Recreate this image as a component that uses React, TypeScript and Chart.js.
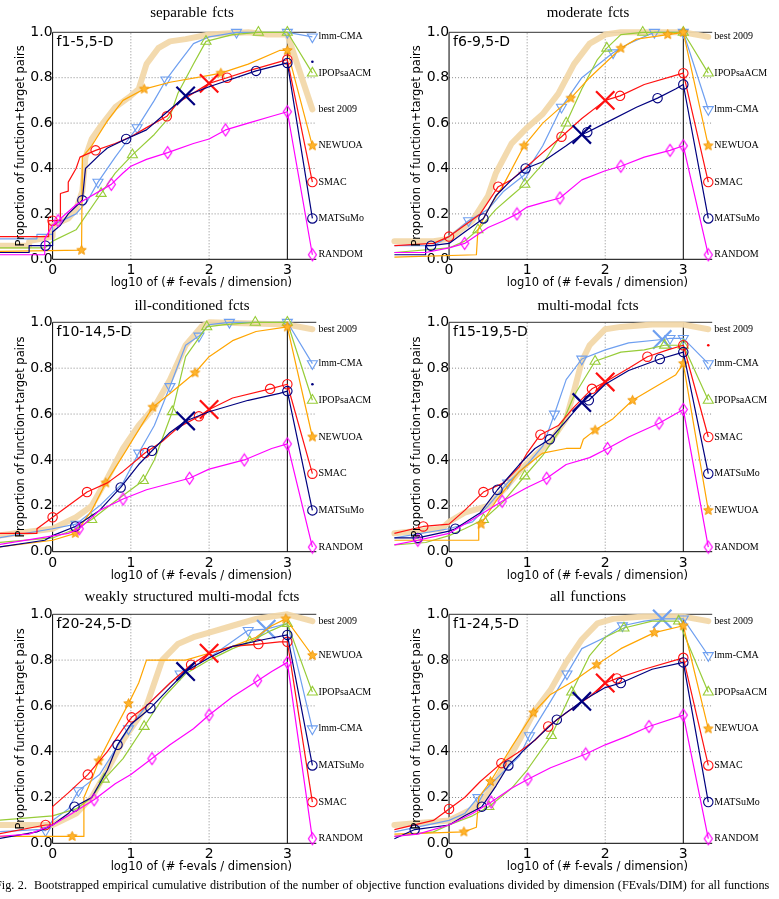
import React, { useEffect, useRef } from 'react';
import { Chart, registerables } from 'chart.js';
Chart.register(...registerables);

// ---------- DATA (x = log10(#f-evals/dim), y = proportion, 3rd = marker: 1 symbol, 2 big cross) ----------
// Panel 1: separable fcts
const p1_best = [[-0.7,0.06],[-0.3,0.06],[-0.3,0.08],[0,0.1],[0,0.15],[0.2,0.18],[0.3,0.22],[0.38,0.3],[0.42,0.45],[0.5,0.53],[0.6,0.58],[0.8,0.67],[1,0.72],[1.1,0.75],[1.2,0.86],[1.35,0.93],[1.5,0.96],[1.7,0.97],[2,0.99],[2.5,1.0],[2.75,0.99],[3,0.99],[3.32,0.66]];
const p1_lmm = [[-0.7,0.09],[-0.2,0.09],[-0.2,0.11],[0,0.11],[0,0.15],[0.3,0.2],[0.45,0.26],[0.58,0.34,1],[0.8,0.45],[0.95,0.52],[1.08,0.58,1],[1.3,0.7],[1.45,0.79,1],[1.6,0.86],[1.8,0.95],[2,0.98],[2.35,1.0,1],[3,1.0,1],[3.32,0.98,1]];
const p1_ipop = [[-0.7,0.05],[-0.1,0.05],[0,0.08],[0.3,0.13],[0.62,0.29,1],[0.8,0.38],[1.02,0.46,1],[1.3,0.55],[1.5,0.63],[1.6,0.73],[1.8,0.86],[1.96,0.96,1],[2.3,0.99],[2.63,1.0,1],[3,1.0,1],[3.32,0.82,1]];
const p1_newuoa = [[-0.7,0.035],[0.37,0.04,1],[0.38,0.45],[0.5,0.5],[0.7,0.61],[0.9,0.7],[1.17,0.75,1],[1.5,0.78],[2,0.81],[2.15,0.82,1],[2.5,0.86],[2.9,0.92],[3,0.92,1],[3.32,0.5,1]];
const p1_smac = [[-0.7,0.1],[-0.05,0.1],[-0.05,0.17],[0,0.17,1],[0.1,0.17],[0.1,0.29],[0.2,0.3],[0.2,0.34],[0.3,0.4],[0.35,0.45],[0.55,0.48,1],[0.8,0.51],[1,0.54],[1.2,0.58],[1.46,0.63,1],[1.6,0.69],[2,0.775,2],[2.23,0.8,1],[2.5,0.83],[2.9,0.87],[3,0.88,1],[3.32,0.34,1]];
const p1_mats = [[-0.7,0.03],[-0.3,0.03],[-0.3,0.06],[-0.09,0.06,1],[0,0.06],[0,0.12],[0.1,0.15],[0.2,0.2],[0.38,0.26,1],[0.42,0.4],[0.6,0.46],[0.7,0.49],[0.94,0.53,1],[1.2,0.57],[1.4,0.63],[1.5,0.66],[1.7,0.72,2],[2,0.76],[2.6,0.83,1],[3,0.865,1],[3.32,0.18,1]];
const p1_rand = [[-0.7,0.02],[-0.1,0.02],[-0.1,0.09],[0,0.15],[0.07,0.17,1],[0.3,0.24],[0.75,0.33,1],[0.9,0.38],[1,0.41],[1.2,0.44],[1.47,0.47,1],[1.8,0.51],[2,0.53],[2.21,0.57,1],[2.5,0.6],[2.8,0.63],[3,0.65,1],[3.32,0.02,1]];
const p1_dots = [[3.32,0.87]];

// Panel 2: moderate fcts
const p2_best = [[-0.7,0.08],[-0.2,0.08],[0,0.09],[0.3,0.17],[0.5,0.28],[0.6,0.38],[0.8,0.51],[1,0.58],[1.2,0.64],[1.4,0.73],[1.6,0.86],[1.8,0.95],[2,0.99],[2.2,1.0],[3,1.0],[3.32,0.98]];
const p2_lmm = [[-0.7,0.06],[-0.2,0.06],[0,0.1],[0.25,0.17,1],[0.5,0.22],[0.7,0.3],[0.96,0.37,1],[1.2,0.5],[1.44,0.67,1],[1.7,0.8],[2.1,0.91,1],[2.3,0.95],[2.63,1.0,1],[3,1.0,1],[3.32,0.66,1]];
const p2_ipop = [[-0.7,0.03],[0,0.05],[0.2,0.08],[0.37,0.13,1],[0.6,0.22],[0.8,0.28],[0.97,0.33,1],[1.2,0.42],[1.4,0.53],[1.5,0.6,1],[1.7,0.75],[1.9,0.88],[2.02,0.93,1],[2.2,0.99],[2.48,1.0,1],[3,1.0,1],[3.32,0.82,1]];
const p2_newuoa = [[-0.7,0.01],[0.35,0.02],[0.37,0.13],[0.5,0.22],[0.7,0.33],[0.96,0.5,1],[1.2,0.6],[1.56,0.71,1],[1.8,0.8],[2.2,0.93,1],[2.4,0.97],[2.8,0.99,1],[3,1.0,1],[3.32,0.5,1]];
const p2_smac = [[-0.7,0.06],[-0.2,0.07],[0,0.1,1],[0.2,0.15],[0.4,0.2],[0.63,0.32,1],[0.8,0.35],[1,0.41],[1.2,0.47],[1.44,0.54,1],[1.7,0.62],[2,0.7,2],[2.19,0.72,1],[2.5,0.77],[2.9,0.81],[3,0.82,1],[3.32,0.34,1]];
const p2_mats = [[-0.7,0.02],[-0.3,0.02],[-0.3,0.06],[-0.23,0.06,1],[0,0.07],[0.2,0.12],[0.44,0.18,1],[0.6,0.28],[0.8,0.35],[0.98,0.4,1],[1.2,0.43],[1.5,0.5],[1.7,0.55,2],[1.77,0.56,1],[2,0.6],[2.4,0.67],[2.67,0.71,1],[2.9,0.75],[3,0.77,1],[3.32,0.18,1]];
const p2_rand = [[-0.7,0.03],[-0.3,0.03],[0,0.05],[0.2,0.07,1],[0.5,0.14],[0.7,0.17],[0.87,0.2,1],[1,0.23],[1.2,0.25],[1.42,0.27,1],[1.7,0.35],[2,0.39],[2.2,0.41,1],[2.5,0.45],[2.83,0.48,1],[3,0.5,1],[3.32,0.02,1]];
const p2_dots: number[][] = [];

// Panel 3: ill-conditioned fcts
const p3_best = [[-0.7,0.07],[0,0.1],[0.3,0.15],[0.5,0.2],[0.7,0.32],[0.9,0.45],[1.1,0.55],[1.3,0.63],[1.5,0.75],[1.7,0.9],[1.9,0.98],[2,1.0],[3,0.99],[3.32,0.97]];
const p3_lmm = [[-0.7,0.06],[0,0.1],[0.3,0.12,1],[0.6,0.2],[0.9,0.3],[1.1,0.43,1],[1.3,0.55],[1.5,0.72,1],[1.7,0.9],[1.87,0.94,1],[2,0.99],[2.26,1.0,1],[3,1.0,1],[3.32,0.82,1]];
const p3_ipop = [[-0.7,0.04],[0,0.06],[0.3,0.1],[0.5,0.14,1],[0.8,0.22],[1.16,0.31,1],[1.3,0.4],[1.53,0.61,1],[1.7,0.85],[1.97,0.98,1],[2.2,0.99],[2.59,1.0,1],[3,1.0,1],[3.32,0.66,1]];
const p3_newuoa = [[-0.7,0.02],[0,0.05],[0.29,0.08,1],[0.5,0.18],[0.68,0.3,1],[0.9,0.42],[1.28,0.63,1],[1.5,0.69],[1.82,0.78,1],[2,0.85],[2.3,0.92],[2.6,0.96],[3,0.98,1],[3.32,0.5,1]];
const p3_smac = [[-0.7,0.08],[-0.2,0.08],[-0.2,0.1],[0,0.15,1],[0.2,0.2],[0.44,0.26,1],[0.7,0.3],[0.9,0.35],[1.18,0.43,1],[1.4,0.48],[1.6,0.54],[1.87,0.59,1],[2,0.62,2],[2.3,0.67],[2.78,0.71,1],[3,0.73,1],[3.32,0.34,1]];
const p3_mats = [[-0.7,0.02],[-0.1,0.05],[0,0.07],[0.29,0.11,1],[0.6,0.18],[0.87,0.28,1],[1.1,0.38],[1.27,0.44,1],[1.5,0.52],[1.7,0.57,2],[2,0.61],[2.5,0.66],[2.9,0.69],[3,0.7,1],[3.32,0.18,1]];
const p3_rand = [[-0.7,0.03],[0.2,0.08],[0.34,0.1,1],[0.6,0.18],[0.9,0.23,1],[1.2,0.27],[1.75,0.32,1],[2,0.36],[2.45,0.4,1],[2.8,0.45],[3,0.47,1],[3.32,0.02,1]];
const p3_dots = [[3.32,0.73]];

// Panel 4: multi-modal fcts
const p4_best = [[-0.7,0.08],[-0.1,0.1],[0,0.13],[0.2,0.17],[0.5,0.2],[0.7,0.27],[0.9,0.35],[1.1,0.42],[1.3,0.48],[1.5,0.58],[1.6,0.7],[1.7,0.83],[1.8,0.9],[2,0.97],[2.2,0.98],[2.6,0.99],[3,0.99],[3.32,0.97]];
const p4_lmm = [[-0.7,0.06],[0,0.1],[0.3,0.13],[0.5,0.2],[0.75,0.3,1],[1,0.38],[1.2,0.46],[1.35,0.6,1],[1.5,0.75],[1.7,0.84,1],[2,0.88],[2.3,0.91],[2.73,0.925,2],[2.83,0.93,1],[3,0.93,1],[3.32,0.82,1]];
const p4_ipop = [[-0.7,0.03],[-0.3,0.04],[0,0.07],[0.2,0.1],[0.44,0.14,1],[0.7,0.22],[0.97,0.33,1],[1.2,0.42],[1.4,0.52],[1.6,0.68],[1.87,0.83,1],[2.2,0.87],[2.5,0.88],[2.76,0.9,1],[3,0.9,1],[3.32,0.66,1]];
const p4_newuoa = [[-0.7,0.05],[0.38,0.05],[0.38,0.12],[0.41,0.12,1],[0.6,0.22],[0.9,0.35],[1.2,0.43],[1.5,0.45],[1.68,0.45],[1.72,0.49],[1.87,0.53,1],[2.1,0.58],[2.35,0.66,1],[2.6,0.71],[2.9,0.77],[3,0.82,1],[3.32,0.18,1]];
const p4_smac = [[-0.7,0.08],[-0.33,0.11,1],[0,0.12],[0.2,0.18],[0.44,0.26,1],[0.7,0.3],[0.9,0.37],[1,0.43],[1.17,0.51,1],[1.4,0.55],[1.6,0.63],[1.83,0.71,1],[2,0.74,2],[2.3,0.8],[2.54,0.85,1],[2.8,0.88],[3,0.9,1],[3.32,0.5,1]];
const p4_mats = [[-0.7,0.06],[-0.4,0.06,1],[0,0.09],[0.08,0.1,1],[0.4,0.17],[0.62,0.27,1],[0.9,0.38],[1.1,0.45],[1.29,0.49,1],[1.5,0.57],[1.7,0.65,2],[1.79,0.66,1],[2,0.73],[2.3,0.79],[2.7,0.84,1],[3,0.87,1],[3.32,0.34,1]];
const p4_rand = [[-0.7,0.03],[-0.4,0.05,1],[0,0.08],[0.3,0.14],[0.68,0.22,1],[1,0.28],[1.25,0.32,1],[1.5,0.38],[1.8,0.41],[2.03,0.45,1],[2.3,0.5],[2.69,0.56,1],[3,0.62,1],[3.32,0.02,1]];
const p4_dots = [[3.32,0.9]];

// Panel 5: weakly structured multi-modal fcts
const p5_best = [[-0.7,0.08],[0,0.08],[0.3,0.13],[0.5,0.2],[0.7,0.32],[0.9,0.45],[1,0.5],[1.2,0.6],[1.3,0.7],[1.4,0.8],[1.6,0.87],[1.8,0.9],[2,0.92],[2.3,0.95],[2.6,0.98],[2.8,0.99],[3,1.0],[3.32,0.97]];
const p5_lmm = [[-0.7,0.05],[-0.2,0.06],[-0.09,0.055,1],[0,0.1],[0.2,0.15],[0.33,0.23,1],[0.6,0.3],[0.97,0.5,1],[1.2,0.6],[1.63,0.74,1],[2,0.81],[2.5,0.93,1],[2.73,0.935,2],[3,0.96],[3.32,0.5,1]];
const p5_ipop = [[-0.7,0.1],[0,0.12],[0.3,0.15],[0.5,0.2],[0.66,0.28,1],[0.9,0.37],[1.17,0.51,1],[1.4,0.63],[1.7,0.74],[2,0.8],[2.3,0.85],[2.52,0.88,1],[2.8,0.93],[3,0.96,1],[3.32,0.66,1]];
const p5_newuoa = [[-0.7,0.03],[0.25,0.03,1],[0.4,0.03],[0.4,0.2],[0.5,0.28],[0.59,0.36,1],[0.8,0.5],[0.97,0.61,1],[1.1,0.7],[1.2,0.8],[1.7,0.8],[2,0.83],[2.3,0.86],[2.6,0.9],[2.8,0.95],[2.98,0.98,1],[3.32,0.82,1]];
const p5_smac = [[-0.7,0.04],[-0.09,0.08,1],[0,0.08],[0,0.16],[0.2,0.22],[0.45,0.3,1],[0.7,0.4],[0.9,0.5],[1.01,0.55,1],[1.2,0.6],[1.5,0.7],[1.77,0.78,1],[2,0.83,2],[2.3,0.86],[2.63,0.87,1],[2.9,0.88],[3,0.88,1],[3.32,0.18,1]];
const p5_mats = [[-0.7,0.02],[-0.2,0.05],[0,0.08],[0.2,0.13],[0.28,0.16,1],[0.5,0.2],[0.7,0.32],[0.83,0.43,1],[1,0.52],[1.25,0.59,1],[1.5,0.68],[1.7,0.75,2],[2,0.81],[2.3,0.86],[2.7,0.89],[3,0.91,1],[3.32,0.34,1]];
const p5_rand = [[-0.7,0.03],[-0.3,0.04],[0,0.08],[0.2,0.12],[0.53,0.19,1],[0.8,0.26],[1,0.3],[1.27,0.37,1],[1.5,0.43],[1.8,0.5],[2,0.56,1],[2.3,0.64],[2.62,0.71,1],[2.8,0.75],[3,0.79,1],[3.32,0.02,1]];
const p5_dots: number[][] = [];

// Panel 6: all functions
const p6_best = [[-0.7,0.08],[0,0.1],[0.3,0.15],[0.5,0.22],[0.7,0.33],[0.9,0.45],[1.1,0.58],[1.3,0.67],[1.5,0.79],[1.7,0.89],[1.9,0.96],[2.1,0.98],[2.5,0.99],[3,0.99],[3.32,0.97]];
const p6_lmm = [[-0.7,0.05],[0,0.1],[0.2,0.13],[0.37,0.2,1],[0.6,0.28],[0.9,0.38],[1.03,0.47,1],[1.3,0.62],[1.51,0.74,1],[1.7,0.85],[2,0.9],[2.22,0.95,1],[2.5,0.97],[2.73,0.98,2],[3,0.98,1],[3.32,0.82,1]];
const p6_ipop = [[-0.7,0.03],[-0.2,0.05],[0,0.08],[0.3,0.12],[0.51,0.16,1],[0.8,0.24],[1,0.32],[1.31,0.47,1],[1.57,0.66,1],[1.8,0.82],[2,0.9],[2.24,0.94,1],[2.6,0.97],[2.94,0.97,1],[3.32,0.66,1]];
const p6_newuoa = [[-0.7,0.04],[0.19,0.05,1],[0.35,0.07],[0.38,0.2],[0.53,0.27,1],[0.8,0.42],[1.08,0.57,1],[1.3,0.65],[1.6,0.71],[1.89,0.78,1],[2.2,0.85],[2.63,0.92,1],[3,0.95,1],[3.32,0.5,1]];
const p6_smac = [[-0.7,0.06],[-0.2,0.1],[0,0.15,1],[0.2,0.2],[0.4,0.27],[0.67,0.35,1],[0.9,0.4],[1.1,0.45],[1.27,0.51,1],[1.5,0.57],[1.8,0.64],[2,0.7,2],[2.15,0.72,1],[2.5,0.76],[3,0.81,1],[3.32,0.34,1]];
const p6_mats = [[-0.7,0.02],[-0.44,0.06,1],[0,0.08],[0.2,0.12],[0.42,0.16,1],[0.6,0.25],[0.76,0.34,1],[1,0.42],[1.38,0.54,1],[1.5,0.57],[1.7,0.62,2],[2,0.68],[2.2,0.7,1],[2.6,0.76],[3,0.79,1],[3.32,0.18,1]];
const p6_rand = [[-0.7,0.03],[-0.4,0.04],[0,0.08],[0.3,0.13],[0.54,0.18,1],[0.8,0.24],[1.01,0.28,1],[1.3,0.33],[1.75,0.39,1],[2,0.43],[2.3,0.47],[2.56,0.51,1],[3,0.56,1],[3.32,0.02,1]];
const p6_dots: number[][] = [];

const TITLES = ['separable fcts', 'moderate fcts', 'ill-conditioned fcts', 'multi-modal fcts', 'weakly structured multi-modal fcts', 'all functions'];
const PANEL_LABELS = ['f1-5,5-D', 'f6-9,5-D', 'f10-14,5-D', 'f15-19,5-D', 'f20-24,5-D', 'f1-24,5-D'];
const SERIES_NAMES = ['best 2009', 'lmm-CMA', 'IPOPsaACM', 'NEWUOA', 'SMAC', 'MATSuMo', 'RANDOM'];
const DOT_COLORS = ['#00007f', '', '#00007f', '#ff0000', '', ''];
const X_TICKS = [0, 1, 2, 3];
const X_GRID = [1, 2];
const Y_GRID = [0.2, 0.4, 0.6, 0.8];
const CAPTION = 'Fig. 2.\u00a0\u00a0Bootstrapped empirical cumulative distribution of the number of objective function evaluations divided by dimension (FEvals/DIM) for all functions';

const PANEL_SERIES = [
  [p1_best, p1_lmm, p1_ipop, p1_newuoa, p1_smac, p1_mats, p1_rand],
  [p2_best, p2_lmm, p2_ipop, p2_newuoa, p2_smac, p2_mats, p2_rand],
  [p3_best, p3_lmm, p3_ipop, p3_newuoa, p3_smac, p3_mats, p3_rand],
  [p4_best, p4_lmm, p4_ipop, p4_newuoa, p4_smac, p4_mats, p4_rand],
  [p5_best, p5_lmm, p5_ipop, p5_newuoa, p5_smac, p5_mats, p5_rand],
  [p6_best, p6_lmm, p6_ipop, p6_newuoa, p6_smac, p6_mats, p6_rand],
];
const PANEL_DOTS = [p1_dots, p2_dots, p3_dots, p4_dots, p5_dots, p6_dots];

// ---------- STYLE / LAYOUT ----------
const SERIES_STYLE = [
  { color: 'rgba(242,216,170,0.95)', width: 6, marker: 'none', order: 10 },
  { color: '#6e9ff0', width: 1.2, marker: 'tridown', order: 6 },
  { color: '#97cc38', width: 1.2, marker: 'triup', order: 5 },
  { color: '#ffa500', width: 1.2, marker: 'star', order: 4 },
  { color: '#ff1010', width: 1.2, marker: 'circle', order: 3 },
  { color: '#00007f', width: 1.2, marker: 'circle', order: 2 },
  { color: '#ff00ff', width: 1.2, marker: 'diamond', order: 1 },
];
const X_MAX = 3.37;
const CANVAS_H = 300;
const ROW_TOP = [0, 290, 582];
const ROW_BOTTOM = [259.3, 261.7, 261.3];
const CHART_TOP = 32.3;
const COL_LEFT = [0, 390];
const COL_W = [390, 389];
const COL_XMIN = [-0.584, -0.668];
const COL_PADR = [73.7, 66.8];
const TITLE_Y = [12, 305, 595.5];
const TITLE_X = [192, 588];
const SANS = '"DejaVu Sans", sans-serif';
const SERIF = '"Liberation Serif", "Times New Roman", serif';

function makeStar(color: string, r: number) {
  const s = Math.ceil(r * 2 + 3);
  const c = document.createElement('canvas');
  c.width = s; c.height = s;
  const g = c.getContext('2d')!;
  g.beginPath();
  for (let i = 0; i < 10; i++) {
    const a = -Math.PI / 2 + (i * Math.PI) / 5;
    const rr = i % 2 ? r * 0.45 : r;
    g.lineTo(s / 2 + rr * Math.cos(a), s / 2 + rr * Math.sin(a));
  }
  g.closePath();
  g.fillStyle = '#ffb52e';
  g.fill();
  g.strokeStyle = color;
  g.lineWidth = 0.9;
  g.stroke();
  return c;
}
function makeDiamond(color: string, w: number, h: number) {
  const c = document.createElement('canvas');
  c.width = w + 3; c.height = h + 3;
  const g = c.getContext('2d')!;
  const cx = c.width / 2, cy = c.height / 2;
  g.beginPath();
  g.moveTo(cx, cy - h / 2);
  g.lineTo(cx + w / 2, cy);
  g.lineTo(cx, cy + h / 2);
  g.lineTo(cx - w / 2, cy);
  g.closePath();
  g.strokeStyle = color;
  g.lineWidth = 1.2;
  g.stroke();
  return c;
}

function buildChart(canvas: HTMLCanvasElement, idx: number) {
  const row = Math.floor(idx / 2), col = idx % 2;
  const series = PANEL_SERIES[idx];
  const star = makeStar('#f29400', 5);
  const diamond = makeDiamond('#ff00ff', 8, 12);

  const datasets: any[] = series.map((arr, k) => {
    const st = SERIES_STYLE[k];
    const data = arr.map((p) => ({ x: p[0], y: p[1], m: p[2] || 0 }));
    const baseStyle: any = st.marker === 'star' ? star : st.marker === 'diamond' ? diamond : st.marker === 'circle' ? 'circle' : st.marker === 'none' ? 'circle' : 'triangle';
    return {
      label: SERIES_NAMES[k],
      data,
      borderColor: st.color,
      borderWidth: st.width,
      borderJoinStyle: 'round',
      borderCapStyle: k === 0 ? 'round' : 'butt',
      tension: 0,
      fill: false,
      clip: false,
      order: st.order,
      pointStyle: (c: any) => (c.raw && c.raw.m === 2 ? 'crossRot' : baseStyle),
      pointRadius: (c: any) => {
        const m = c.raw ? c.raw.m : 0;
        if (st.marker === 'none' || !m) return 0;
        if (m === 2) return 13;
        if (st.marker === 'circle') return 4.7;
        if (st.marker === 'tridown' || st.marker === 'triup') return 5.8;
        return 5;
      },
      pointRotation: (c: any) => (st.marker === 'tridown' && !(c.raw && c.raw.m === 2) ? 180 : 0),
      pointBorderColor: st.color,
      pointBackgroundColor: 'rgba(0,0,0,0)',
      pointBorderWidth: (c: any) => (c.raw && c.raw.m === 2 ? 2.2 : 1.1),
      pointHoverRadius: 0,
    };
  });
  const dots = PANEL_DOTS[idx];
  if (dots.length) {
    datasets.push({
      label: 'dot',
      data: dots.map((p) => ({ x: p[0], y: p[1] })),
      showLine: false,
      clip: false,
      order: 0,
      pointStyle: 'circle',
      pointRadius: 1.3,
      pointBorderWidth: 0,
      pointBackgroundColor: DOT_COLORS[idx],
      borderColor: DOT_COLORS[idx],
    });
  }

  const plugin = {
    id: 'bbobFrame',
    beforeDatasetsDraw(chart: any) {
      const { ctx } = chart;
      const X = (v: number) => chart.scales.x.getPixelForValue(v);
      const Y = (v: number) => chart.scales.y.getPixelForValue(v);
      const line = (a: number, b: number, c: number, d: number) => {
        ctx.beginPath(); ctx.moveTo(a, b); ctx.lineTo(c, d); ctx.stroke();
      };
      ctx.save();
      ctx.lineWidth = 1;
      ctx.strokeStyle = '#8a8a8a';
      ctx.setLineDash([1, 2]);
      X_GRID.forEach((g) => line(X(g), Y(0), X(g), Y(1)));
      Y_GRID.forEach((g) => line(X(0), Y(g), X(X_MAX), Y(g)));
      ctx.setLineDash([]);
      ctx.strokeStyle = '#000';
      line(X(0), Y(0), X(0), Y(1));
      line(X(0), Y(0), X(X_MAX), Y(0));
      line(X(3), Y(0), X(3), Y(1));
      ctx.strokeStyle = '#333';
      line(X(0), Y(1), X(X_MAX), Y(1));
      ctx.restore();
    },
    afterDatasetsDraw(chart: any) {
      const { ctx } = chart;
      const X = (v: number) => chart.scales.x.getPixelForValue(v);
      const Y = (v: number) => chart.scales.y.getPixelForValue(v);
      ctx.save();
      ctx.fillStyle = '#000';
      // end labels
      ctx.font = '10px ' + SERIF;
      ctx.textAlign = 'left';
      ctx.textBaseline = 'middle';
      series.forEach((arr, k) => {
        const last = arr[arr.length - 1];
        ctx.fillText(SERIES_NAMES[k], X(last[0]) + 6, Y(last[1]));
      });
      // panel label
      ctx.font = '14px ' + SANS;
      ctx.textBaseline = 'top';
      ctx.fillText(PANEL_LABELS[idx], X(0) + 4, Y(1) + 3);
      // x axis title
      ctx.font = '11.5px ' + SANS;
      ctx.textAlign = 'center';
      ctx.textBaseline = 'middle';
      ctx.fillText('log10 of (# f-evals / dimension)', X(1.9), Y(0) + 24);
      // y axis title
      ctx.translate(X(0) - 32, (Y(0) + Y(1)) / 2);
      ctx.rotate(-Math.PI / 2);
      ctx.fillText('Proportion of function+target pairs', 0, 0);
      ctx.restore();
    },
  };

  return new Chart(canvas, {
    type: 'line',
    data: { datasets },
    options: {
      responsive: false,
      animation: false,
      events: [],
      layout: { padding: { left: 0, right: COL_PADR[col], top: CHART_TOP, bottom: 0 } },
      plugins: { legend: { display: false }, tooltip: { enabled: false }, title: { display: false } },
      scales: {
        x: {
          type: 'linear',
          position: 'bottom',
          min: COL_XMIN[col],
          max: X_MAX,
          grid: { display: false, drawTicks: false },
          border: { display: false },
          afterBuildTicks: (scale: any) => {
            scale.ticks = X_TICKS.map((v) => ({ value: v }));
          },
          afterFit: (scale: any) => {
            scale.height = CANVAS_H - ROW_BOTTOM[row];
          },
          ticks: {
            autoSkip: false,
            maxRotation: 0,
            padding: 3,
            color: '#000',
            font: { family: SANS, size: 14 },
            callback: (v: any) => String(v),
          },
        },
        y: {
          type: 'linear',
          position: { x: 0 } as any,
          min: 0,
          max: 1,
          grid: { display: false, drawTicks: false },
          border: { display: false },
          ticks: {
            stepSize: 0.2,
            padding: 0,
            color: '#000',
            font: { family: SANS, size: 14 },
            callback: (v: any) => Number(v).toFixed(1),
          },
        },
      },
    } as any,
    plugins: [plugin],
  });
}

function Panel({ idx }: { idx: number }) {
  const ref = useRef<HTMLCanvasElement | null>(null);
  const row = Math.floor(idx / 2), col = idx % 2;
  useEffect(() => {
    if (!ref.current) return;
    const ch = buildChart(ref.current, idx);
    return () => ch.destroy();
  }, [idx]);
  return (
    <>
      <canvas
        ref={ref}
        width={COL_W[col]}
        height={CANVAS_H}
        style={{ position: 'absolute', left: COL_LEFT[col], top: ROW_TOP[row], width: COL_W[col], height: CANVAS_H }}
      />
      <div
        style={{
          position: 'absolute',
          left: TITLE_X[col],
          top: TITLE_Y[row],
          transform: 'translate(-50%, -50%)',
          font: '15px ' + SERIF,
          wordSpacing: '1.5px',
          whiteSpace: 'nowrap',
          color: '#000',
        }}
      >
        {TITLES[idx]}
      </div>
    </>
  );
}

export default function App() {
  return (
    <div style={{ position: 'absolute', left: 0, top: 0, width: 779, height: 899, background: '#fff', overflow: 'hidden' }}>
      {[0, 1, 2, 3, 4, 5].map((i) => (
        <Panel key={i} idx={i} />
      ))}
      <div
        style={{
          position: 'absolute',
          left: -5,
          top: 877,
          width: 790,
          font: '12.2px ' + SERIF,
          lineHeight: '16px',
          whiteSpace: 'nowrap',
          color: '#000',
          wordSpacing: '0.5px',
        }}
      >
        {CAPTION}
      </div>
    </div>
  );
}
